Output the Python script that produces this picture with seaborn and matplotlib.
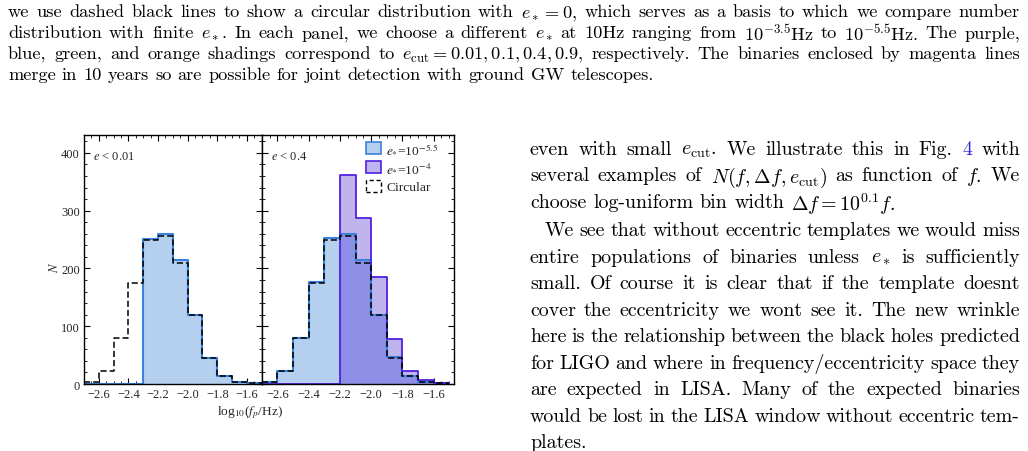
import numpy as np
import matplotlib
matplotlib.use("Agg")
import matplotlib.pyplot as plt
import seaborn as sns
from matplotlib.patches import Patch
from matplotlib.ticker import MultipleLocator
from matplotlib.transforms import IdentityTransform

# data (bins of log10 f_p / Hz, width 0.1)
bin_edges = [-2.7, -2.6, -2.5, -2.4, -2.3, -2.2, -2.1, -2.0, -1.9, -1.8, -1.7, -1.6, -1.5]
circular = [3, 22, 79, 175, 249, 257, 209, 119, 45, 14, 4, 1]
left_e55 = [0, 0, 0, 0, 251, 260, 214, 119, 45, 13, 4, 1]
right_e55 = [3, 22, 80, 176, 252, 260, 214, 120, 46, 14, 4, 1]
right_e4 = [0, 0, 0, 0, 0, 362, 287, 186, 78, 23, 7, 1]

caption_lines = [
    r"we use dashed black lines to show a circular distribution with $e_* = 0$, which serves as a basis to which we compare number",
    r"distribution with finite $e_*$. In each panel, we choose a different $e_*$ at 10Hz ranging from $10^{-3.5}$Hz to $10^{-5.5}$Hz. The purple,",
    r"blue, green, and orange shadings correspond to $e_{\rm cut} = 0.01, 0.1, 0.4, 0.9$, respectively. The binaries enclosed by magenta lines",
    r"merge in 10 years so are possible for joint detection with ground GW telescopes.",
]
body_lines = [
    r"even with small $e_{\rm cut}$. We illustrate this in Fig. @4 with",
    r"several examples of $N(f, \Delta f, e_{\rm cut})$ as function of $f$. We",
    r"choose log-uniform bin width $\Delta f = 10^{0.1} f$.",
    r"We see that without eccentric templates we would miss",
    r"entire populations of binaries unless $e_*$ is sufficiently",
    r"small. Of course it is clear that if the template doesnt",
    r"cover the eccentricity we wont see it. The new wrinkle",
    r"here is the relationship between the black holes predicted",
    r"for LIGO and where in frequency/eccentricity space they",
    r"are expected in LISA. Many of the expected binaries",
    r"would be lost in the LISA window without eccentric tem-",
    r"plates.",
]

BLUE_FACE = "#b4d0ee"
BLUE_EDGE = "#3b82dc"
PURP_FACE = "#c0b4ee"
PURP_EDGE = "#5020e0"
OVER_FACE = "#8d8ee6"

W, H = 1028, 452
sns.set_theme(style="white")
plt.rcParams["font.family"] = ["Liberation Serif", "DejaVu Serif"]
plt.rcParams["mathtext.fontset"] = "stix"

fig = plt.figure(figsize=(W / 100, H / 100), dpi=100)
ax1 = fig.add_axes([84 / W, 1 - 385 / H, 177.7 / W, 249 / H])
ax2 = fig.add_axes([261.7 / W, 1 - 385 / H, 192.3 / W, 249 / H])

centers = [(a + b) / 2 for a, b in zip(bin_edges[:-1], bin_edges[1:])]


def shade(ax, vals, face):
    sns.histplot(x=centers, weights=vals, bins=bin_edges, element="step", fill=True,
                 color=face, facecolor=face, edgecolor="none", linewidth=0, alpha=1, ax=ax)


def outline(ax, vals, color, lw, ls="-"):
    sns.histplot(x=centers, weights=vals, bins=bin_edges, element="step", fill=False,
                 color=color, linewidth=lw, linestyle=ls, ax=ax)


# left panel e < 0.01
shade(ax1, left_e55, BLUE_FACE)
outline(ax1, left_e55, BLUE_EDGE, 1.5)
outline(ax1, circular, "black", 1.1, (0, (4, 2)))

# right panel e < 0.4
overlap = np.minimum(right_e55, right_e4)
shade(ax2, right_e55, BLUE_FACE)
shade(ax2, right_e4, PURP_FACE)
shade(ax2, overlap, OVER_FACE)
outline(ax2, right_e55, BLUE_EDGE, 1.5)
outline(ax2, right_e4, PURP_EDGE, 1.3)
outline(ax2, circular, "black", 1.1, (0, (4, 2)))

ax1.set_xlim(-2.7, -1.5)
ax2.set_xlim(-2.7, -1.47)
for ax in (ax1, ax2):
    ax.set_ylim(0, 431)
    ax.set_xlabel("")
    ax.set_ylabel("")
    ax.xaxis.set_major_locator(MultipleLocator(0.2))
    ax.xaxis.set_minor_locator(MultipleLocator(0.05))
    ax.yaxis.set_major_locator(MultipleLocator(100))
    ax.yaxis.set_minor_locator(MultipleLocator(20))
    ax.tick_params(which="both", direction="in", top=True, right=True,
                   bottom=True, left=True, color="black", labelsize=9, pad=3)
    ax.tick_params(which="major", length=4, width=0.8)
    ax.tick_params(which="minor", length=2, width=0.6)
    for s in ax.spines.values():
        s.set_color("black")
        s.set_linewidth(1.0)
ax2.tick_params(labelleft=False)

ax1.text(0.05, 0.915, r"$e$ < 0.01", transform=ax1.transAxes, fontsize=9, va="center")
ax2.text(0.05, 0.915, r"$e$ < 0.4", transform=ax2.transAxes, fontsize=9, va="center")

handles = [
    Patch(facecolor=BLUE_FACE, edgecolor=BLUE_EDGE, linewidth=1.2),
    Patch(facecolor=PURP_FACE, edgecolor=PURP_EDGE, linewidth=1.2),
    Patch(facecolor="none", edgecolor="black", linewidth=1.0, linestyle=(0, (3, 2))),
]
labels = [r"$e_{*}$=10$^{-5.5}$", r"$e_{*}$=10$^{-4}$", "Circular"]
fig.legend(handles, labels, loc="upper left", bbox_to_anchor=(366 / W, 1 - 143 / H),
           frameon=False, fontsize=9.7, handlelength=1.1, handleheight=1.0,
           handletextpad=0.4, labelspacing=0.37, borderpad=0, borderaxespad=0)

fig.text(54 / W, 1 - 267 / H, r"$N$", rotation=90, fontsize=9, ha="center", va="center")
fig.text(250 / W, 1 - 413 / H, r"log$_{10}$($f_p$/Hz)", fontsize=9.6, ha="center", va="center")

# page text, placed word by word so lines can be justified
renderer = fig.canvas.get_renderer()


def tokens_of(line):
    out, cur, in_math = [], "", False
    for ch in line:
        if ch == "$":
            in_math = not in_math
        if ch == " " and not in_math:
            if cur:
                out.append(cur)
            cur = ""
        else:
            cur += ch
    if cur:
        out.append(cur)
    return out


def put_line(line, x0, x1, y, size, justify):
    words = tokens_of(line)
    arts = []
    for w in words:
        color = "black"
        if w.startswith("@"):
            w = w[1:]
            color = "#2b2bd9"
        t = fig.text(0, H - y, w, fontsize=size, family="cmr10", math_fontfamily="cm",
                     transform=IdentityTransform(), va="center_baseline", ha="left", color=color)
        arts.append(t)
    widths = [a.get_window_extent(renderer).width for a in arts]
    if justify and len(arts) > 1:
        gap = (x1 - x0 - sum(widths)) / (len(arts) - 1)
    else:
        gap = size * 0.333 * 100 / 72
    x = x0
    for a, w in zip(arts, widths):
        a.set_x(x)
        x += w + gap


cap_y = [11, 32, 53, 74]
for i, line in enumerate(caption_lines):
    put_line(line, 8, 1020, cap_y[i], 13.2, justify=(i < 3))

no_justify = {2, 11}
for i, line in enumerate(body_lines):
    y = 148 + 26.5 * i + (2 if i >= 3 else 0)
    x0 = 545 if i == 3 else 530
    put_line(line, x0, 1020, y, 14.4, justify=(i not in no_justify))

fig.savefig("out.png", dpi=100)
